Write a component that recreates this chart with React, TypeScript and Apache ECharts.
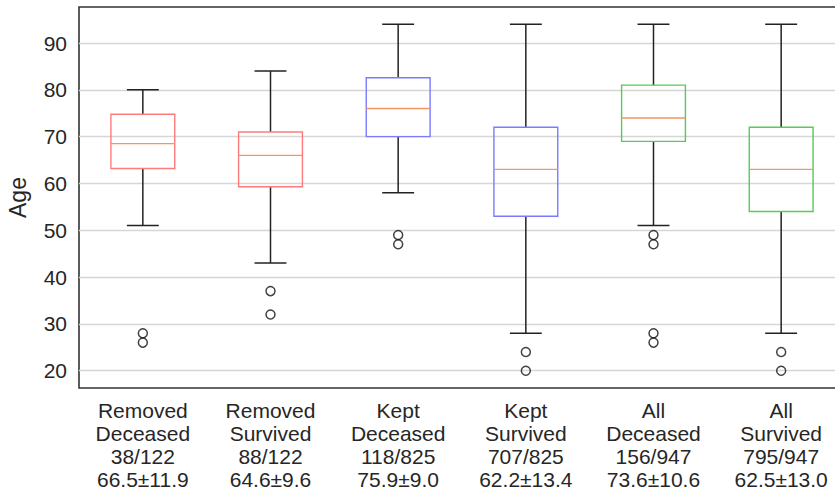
import React, { useEffect, useRef } from "react";
import * as echarts from "echarts";

const categories = [
  "Removed\nDeceased\n38/122\n66.5±11.9",
  "Removed\nSurvived\n88/122\n64.6±9.6",
  "Kept\nDeceased\n118/825\n75.9±9.0",
  "Kept\nSurvived\n707/825\n62.2±13.4",
  "All\nDeceased\n156/947\n73.6±10.6",
  "All\nSurvived\n795/947\n62.5±13.0",
];
const whiskerLow = [51, 43, 58, 28, 51, 28];
const q1 = [63.2, 59.3, 70, 53, 69, 54];
const medians = [68.5, 66, 76, 63, 74, 63];
const q3 = [74.8, 71, 82.6, 72, 81, 72];
const whiskerHigh = [80, 84, 94, 94, 94, 94];
const outliers: [number, number][] = [
  [0, 28], [0, 26],
  [1, 37], [1, 32],
  [2, 49], [2, 47],
  [3, 24], [3, 20],
  [4, 49], [4, 47], [4, 28], [4, 26],
  [5, 24], [5, 20],
];
const yTicks = [20, 30, 40, 50, 60, 70, 80, 90];

const boxColors = ["#ff7b7b", "#ff7b7b", "#7b7bff", "#7b7bff", "#55cc55", "#55cc55"];
const FONT = "'Liberation Sans', Arial, sans-serif";

export default function App() {
  const ref = useRef<HTMLDivElement>(null);
  useEffect(() => {
    if (!ref.current) return;
    const chart = echarts.init(ref.current, undefined, { renderer: "svg" });
    const boxData = categories.map((_, i) => [i, whiskerLow[i], q1[i], medians[i], q3[i], whiskerHigh[i]]);
    chart.setOption({
      animation: false,
      grid: {
        left: 79, top: 7, width: 766, height: 381,
        outerBoundsMode: "none", containLabel: false,
        show: true, borderColor: "#333", borderWidth: 1.6, backgroundColor: "#fff",
      },
      xAxis: {
        type: "category",
        data: categories,
        boundaryGap: true,
        axisLine: { show: false },
        axisTick: { show: false },
        splitLine: { show: false },
        axisLabel: { color: "#262626", fontSize: 21, lineHeight: 23, fontFamily: FONT, margin: 11, interval: 0 },
      },
      yAxis: {
        type: "value",
        min: 16.3,
        max: 97.7,
        name: "Age",
        nameLocation: "middle",
        nameRotate: 90,
        nameGap: 50,
        nameTextStyle: { color: "#262626", fontSize: 23, fontFamily: FONT },
        axisLine: { show: false },
        axisTick: { show: false },
        splitLine: { show: false },
        axisLabel: { color: "#262626", fontSize: 21, fontFamily: FONT, margin: 12, customValues: yTicks },
      },
      series: [
        {
          type: "scatter",
          data: outliers,
          symbol: "circle",
          symbolSize: 9,
          itemStyle: { color: "rgba(0,0,0,0)", borderColor: "#111", borderWidth: 1.5 },
          z: 5,
          markLine: {
            silent: true,
            symbol: ["none", "none"],
            label: { show: false },
            lineStyle: { color: "#d6d6d6", width: 1.3, type: "solid" },
            z: 1,
            data: yTicks.map((v) => ({ yAxis: v })),
          },
        },
        {
          type: "custom",
          data: boxData,
          encode: { x: 0, y: [1, 2, 3, 4, 5] },
          z: 4,
          renderItem: (params: any, api: any) => {
            const xi = api.value(0);
            const pLow = api.coord([xi, api.value(1)]);
            const pQ1 = api.coord([xi, api.value(2)]);
            const pMed = api.coord([xi, api.value(3)]);
            const pQ3 = api.coord([xi, api.value(4)]);
            const pHigh = api.coord([xi, api.value(5)]);
            const band = api.size([1, 0])[0];
            const bw = band * 0.5;
            const cw = band * 0.25;
            const cx = pLow[0];
            const col = boxColors[params.dataIndex];
            const wStyle = { stroke: "#222", lineWidth: 1.5 };
            return {
              type: "group",
              children: [
                { type: "line", shape: { x1: cx, y1: pLow[1], x2: cx, y2: pQ1[1] }, style: wStyle },
                { type: "line", shape: { x1: cx, y1: pQ3[1], x2: cx, y2: pHigh[1] }, style: wStyle },
                { type: "line", shape: { x1: cx - cw / 2, y1: pLow[1], x2: cx + cw / 2, y2: pLow[1] }, style: wStyle },
                { type: "line", shape: { x1: cx - cw / 2, y1: pHigh[1], x2: cx + cw / 2, y2: pHigh[1] }, style: wStyle },
                {
                  type: "rect",
                  shape: { x: cx - bw / 2, y: pQ3[1], width: bw, height: pQ1[1] - pQ3[1] },
                  style: { fill: "none", stroke: col, lineWidth: 1.4 },
                },
                {
                  type: "line",
                  shape: { x1: cx - bw / 2, y1: pMed[1], x2: cx + bw / 2, y2: pMed[1] },
                  style: { stroke: "#f39660", lineWidth: 1.4 },
                },
              ],
            };
          },
        },
      ],
    });
    return () => chart.dispose();
  }, []);
  return (
    <div style={{ width: 835, height: 491, position: "absolute", left: 0, top: 0, overflow: "hidden" }}>
      <div ref={ref} style={{ width: 870, height: 491 }} />
    </div>
  );
}
